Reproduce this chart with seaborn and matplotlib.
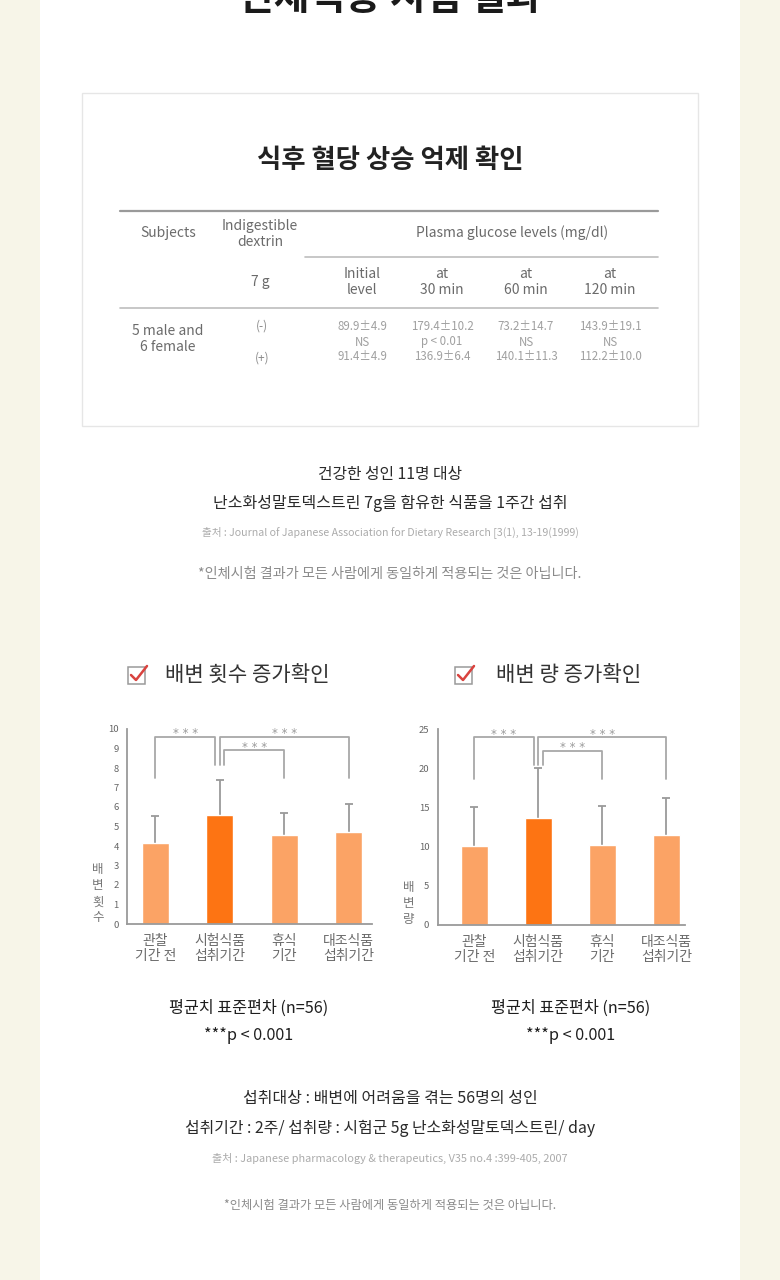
import numpy as np
import pandas as pd
import matplotlib
matplotlib.use('Agg')
import matplotlib.pyplot as plt
from matplotlib.patches import Rectangle
from matplotlib.lines import Line2D
import seaborn as sns

# --- data ---
periods = ['관찰\n기간 전', '시험식품\n섭취기간', '휴식\n기간', '대조식품\n섭취기간']
freq_mean = [4.17, 5.6, 4.58, 4.72]
freq_sd = [1.38, 1.8, 1.11, 1.45]
vol_mean = [10.1, 13.7, 10.25, 11.5]
vol_sd = [5.0, 6.35, 4.95, 4.75]
# (bar a, bar b, bracket top, leg end a, leg end b)
freq_brackets = [(0, 1, 9.6, 7.5, 8.15), (1, 3, 9.6, 8.15, 7.5), (1, 2, 8.9, 8.15, 7.5)]
vol_brackets = [(0, 1, 24.0, 18.7, 20.4), (1, 3, 24.0, 20.4, 18.7), (1, 2, 22.25, 20.4, 18.7)]

table_cols = ['Initial\nlevel', 'at\n30 min', 'at\n60 min', 'at\n120 min']
row_minus = ['89.9±4.9', '179.4±10.2', '73.2±14.7', '143.9±19.1']
row_sig = ['NS', 'p < 0.01', 'NS', 'NS']
row_plus = ['91.4±4.9', '136.9±6.4', '140.1±11.3', '112.2±10.0']

sns.set_style('white')
plt.rcParams['font.family'] = ['Noto Sans CJK KR', 'DejaVu Sans']

W, H = 780, 1280
fig = plt.figure(figsize=(7.8, 12.8), dpi=100, facecolor='#f7f5e8')


def px(x, y):
    return x / W, 1 - y / H


def ftext(x, y, s, **kw):
    fx, fy = px(x, y)
    kw.setdefault('ha', 'center')
    kw.setdefault('va', 'center')
    fig.text(fx, fy, s, **kw)


def fline(x0, y0, x1, y1, **kw):
    a, b = px(x0, y0)
    c, d = px(x1, y1)
    fig.add_artist(Line2D([a, c], [b, d], transform=fig.transFigure, **kw))


# white panel + table box
fig.add_artist(Rectangle(px(40, 1280), 700 / W, 1, transform=fig.transFigure,
                         facecolor='white', edgecolor='none', zorder=0))
fig.add_artist(Rectangle(px(82, 426), 616 / W, 333 / H, transform=fig.transFigure,
                         facecolor='white', edgecolor='#e6e6e6', lw=1, zorder=0.5))

# cropped page heading (cut by the top edge, as in the source page)
ftext(390, 10, '인체적용 시험 결과', va='baseline', fontsize=28, fontweight='bold', color='#1a1a1a')

# --- glucose table ---
ftext(390, 160, '식후 혈당 상승 억제 확인', fontsize=19, fontweight='bold', color='#222222')
fline(120, 211, 658, 211, color='#9a9a9a', lw=1.6)
fline(305, 257, 658, 257, color='#bdbdbd', lw=1.2)
fline(120, 308, 658, 308, color='#bdbdbd', lw=1.2)
hc = '#6b6b6b'
ftext(168, 233, 'Subjects', fontsize=10, color=hc)
ftext(260, 234, 'Indigestible\ndextrin', fontsize=10, color=hc, linespacing=1.25)
ftext(512, 233, 'Plasma glucose levels (mg/dl)', fontsize=10, color=hc)
ftext(260, 282, '7 g', fontsize=10, color=hc)
col_x = [362, 442, 526, 610]
for cx, lab in zip(col_x, table_cols):
    ftext(cx, 282, lab, fontsize=10, color=hc, linespacing=1.15)
ftext(168, 339, '5 male and\n6 female', fontsize=10, color=hc, linespacing=1.2)
ftext(262, 326, '(-)', fontsize=8.5, color='#8a8a8a')
ftext(262, 358, '(+)', fontsize=8.5, color='#8a8a8a')
for cx, a, s, b in zip(col_x, row_minus, row_sig, row_plus):
    ftext(cx, 326, a, fontsize=8.3, color='#a0a0a0')
    ftext(cx, 342, s, fontsize=8.3, color='#a0a0a0')
    ftext(cx, 357, b, fontsize=8.3, color='#a0a0a0')

ftext(390, 475, '건강한 성인 11명 대상', fontsize=11.4, color='#2a2a2a')
ftext(390, 503, '난소화성말토덱스트린 7g을 함유한 식품을 1주간 섭취', fontsize=11.5, color='#2a2a2a')
ftext(390, 532, '출처 : Journal of Japanese Association for Dietary Research [3(1), 13-19(1999)',
      fontsize=7.65, color='#ababab')
ftext(390, 574, '*인체시험 결과가 모든 사람에게 동일하게 적용되는 것은 아닙니다.', fontsize=10.2, color='#8a8a8a')


# --- section headings with checkbox ---
def checkbox(x, y):
    fig.add_artist(Rectangle(px(x, y + 17), 17 / W, 17 / H, transform=fig.transFigure,
                             facecolor='none', edgecolor='#9a9a9a', lw=1.1))
    a = px(x + 3, y + 8)
    b = px(x + 8, y + 13)
    c = px(x + 19, y - 1)
    fig.add_artist(Line2D([a[0], b[0], c[0]], [a[1], b[1], c[1]], transform=fig.transFigure,
                          color='#d9433f', lw=1.8, solid_capstyle='round', solid_joinstyle='round'))


checkbox(128, 667)
checkbox(455, 667)
ftext(165, 675, '배변 횟수 증가확인', ha='left', fontsize=15.2, color='#333333')
ftext(496, 675, '배변 량 증가확인', ha='left', fontsize=15.2, color='#333333')

palette = ['#fba365', '#fd7413', '#fba365', '#fba365']


def bar_chart(rect, means, sds, brackets, ymax, step, xlim, star_off):
    ax = fig.add_axes(rect)
    df = pd.DataFrame({'period': periods, 'mean': means})
    sns.barplot(data=df, x='period', y='mean', hue='period', palette=palette,
                width=0.42, saturation=1, legend=False, ax=ax, zorder=2)
    ax.errorbar(range(len(means)), means, yerr=sds, fmt='none', ecolor='#9a9a9a',
                elinewidth=1.3, capsize=3, capthick=1.3, zorder=1)
    ax.set_xlim(*xlim)
    ax.set_ylim(0, ymax)
    ax.set_yticks(np.arange(0, ymax + step / 2, step))
    ax.set_xlabel('')
    ax.set_ylabel('')
    ax.set_facecolor('none')
    for side in ['top', 'right']:
        ax.spines[side].set_visible(False)
    for side in ['left', 'bottom']:
        ax.spines[side].set_color('#9a9a9a')
        ax.spines[side].set_linewidth(1.3)
    ax.tick_params(axis='y', length=3, width=1, color='#9a9a9a', labelsize=6.8,
                   labelcolor='#666666', pad=3)
    ax.tick_params(axis='x', length=0, pad=7, labelsize=10, labelcolor='#6b6b6b')
    for lab in ax.get_xticklabels():
        lab.set_linespacing(1.1)
    offs = {0: -0.07, 1: 0.0, 2: 0.07}
    for k, (a, b, top, ya, yb) in enumerate(brackets):
        xa = a + (offs[k] if a == 1 else 0)
        xb = b + (offs[k] if b == 1 else 0)
        ax.plot([xa, xa, xb, xb], [ya, top, top, yb], color='#a8a8a8', lw=1.3,
                clip_on=False, zorder=3)
        ax.annotate('* * *', ((xa + xb) / 2, top), xytext=(0, star_off), textcoords='offset points',
                    ha='center', va='center', fontsize=8.5, color='#9a9a9a',
                    family='DejaVu Sans', annotation_clip=False)
    return ax


bar_chart([127 / W, 1 - 924 / H, 245 / W, 195 / H], freq_mean, freq_sd, freq_brackets,
          10, 1, (-0.44, 3.36), 2.2)
bar_chart([437.7 / W, 1 - 925 / H, 247.3 / W, 195.7 / H], vol_mean, vol_sd, vol_brackets,
          25, 5, (-0.57, 3.29), 2.2)

ftext(98, 894, '배\n변\n횟\n수', fontsize=9, color='#777777', linespacing=1.3)
ftext(409, 903, '배\n변\n량', fontsize=9, color='#777777', linespacing=1.3)

for cx in (249, 571):
    ftext(cx, 1008, '평균치 표준편차 (n=56)', fontsize=11.7, color='#1e1e1e')
    ftext(cx, 1036, '***p < 0.001', fontsize=11.7, color='#1e1e1e')

ftext(390, 1099, '섭취대상 : 배변에 어려움을 겪는 56명의 성인', fontsize=11.5, color='#2a2a2a')
ftext(390, 1128, '섭취기간 : 2주/ 섭취량 : 시험군 5g 난소화성말토덱스트린/ day', fontsize=11.45,
      color='#2a2a2a')
ftext(390, 1158, '출처 : Japanese pharmacology & therapeutics, V35 no.4 :399-405, 2007',
      fontsize=7.9, color='#ababab')
ftext(390, 1205, '*인체시험 결과가 모든 사람에게 동일하게 적용되는 것은 아닙니다.', fontsize=8.8, color='#8a8a8a')

fig.savefig('out.png', dpi=100, facecolor=fig.get_facecolor())
plt.close(fig)
